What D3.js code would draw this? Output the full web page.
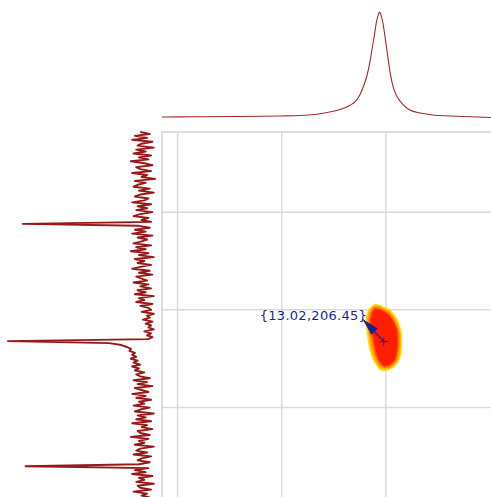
<!DOCTYPE html>
<html>
<head>
<meta charset="utf-8">
<script src="https://cdn.jsdelivr.net/npm/d3@7/dist/d3.min.js"></script>
<style>
  body { margin: 0; background: #fff; }
  svg { display: block; }
</style>
</head>
<body>
<svg id="chart" width="491" height="497"></svg>
<script>
// axis grid (ppm), F2 horizontal (reversed), F1 vertical
const f2Grid = [15, 14, 13]
const f1Grid = [180, 200, 220]

// top projection (F2 ppm / intensity)
const topPpm = [15.15, 14.78, 14.40, 14.02, 13.82, 13.68, 13.54, 13.44, 13.34, 13.29, 13.25, 13.21, 13.18, 13.15, 13.13, 13.11, 13.09, 13.07, 13.06, 13.05, 13.03, 13.01, 12.99, 12.96, 12.93, 12.89, 12.83, 12.77, 12.67, 12.55, 12.38, 12.19, 11.99]
const topInt = [0, 0.2, 0.5, 1, 1.4, 2.4, 4.8, 7.1, 11.4, 15.2, 21, 30.5, 40, 54, 66, 78, 90.5, 98, 100, 98, 90.5, 78, 64, 43, 28.6, 19, 11.4, 6.7, 3.8, 1.9, 1, 0.2, -0.5]

// left projection (F1 ppm sampled from leftStart with leftStep)
const leftStart = 163.6
const leftStep = 0.4
const leftInt = [
  2, -5, 6, -3, 8, -7, 1, 4, -8, 5, -2, 7, -6, 3, -4, 9, -1, -7, 5, 2,
  -6, 8, -3, 1, -9, 6, -2, 4, 7, -5, 3, -8, 2, 6, -4, -1, 8, -6, 4, -3,
  5, -7, 2, 7, -4, 1, -6,
  89,
  3, -5, 6, -2, 8, -7, 4, -3, 1, 7, -6, 5,
  -2, 9, -4, 3, -8, 6, -1, 4, -6, 2, 8, -5, 3, -7, 5, 1, -3, 7, -4, 2,
  -6, 4, -2, 6, -8, 3, -1, 5, -7, 2, -4, -6, 1, -8, -3, -5, 0, -7, -2, -6,
  -4, -8, -1, -6, -3, -7, -4,
  100,
  25, 16, 12, 9, 10, 6, 8, 5, 9, 4, 7, 2, 8, 3, 6, -1, 5, 2,
  -5, 7, -3, 4, -7, 6, 1, -4, 8, -2, 5, -6, 3, -1, 7, -5, 2, 6, -8, 4,
  -2, 5, -6, 8, -3, 1, -7, 4, 2, -5, 9, -4, 3, -1, 6, -8, 2, 5, -3, 7,
  -6, 1, 4, -5, 3,
  87,
  -4, 6, -2, 8, -7, 3, -1, 5, -8, 4, 2, -6, 7, -3, 1, -5
]

// 2D cross peak intensity grid
const blobF2 = [13.25, 13.20, 13.15, 13.10, 13.06, 13.01, 12.96, 12.91, 12.86, 12.82]
const blobF1 = [197.9, 198.9, 200.0, 201.0, 202.0, 203.0, 204.1, 205.1, 206.1, 207.1, 208.1, 209.2, 210.2, 211.2, 212.2, 213.3]
const blobVals = [
  0, 0, 0, 0, 0, 0, 0, 0, 0, 0,
  0, 0, 0, 1.3, 0.9, 0, 0, 0, 0, 0,
  0, 0, 1.6, 3.2, 3, 2, 1.2, 0, 0, 0,
  0, 0.4, 2.2, 4, 5, 4, 2.5, 1, 0, 0,
  0, 0.7, 2.6, 4.5, 6, 6, 4, 2, 0.5, 0,
  0, 0.6, 2.6, 4.5, 6, 6, 5, 3, 1, 0,
  0, 0.4, 2.2, 4, 6, 6, 6, 4, 1.5, 0,
  0, 0.3, 2, 3.6, 6, 6, 6, 4, 2, 0,
  0, 0, 1.7, 3.2, 6, 6, 6, 4, 2, 0,
  0, 0, 1.4, 3, 5, 6, 6, 4, 2, 0,
  0, 0, 1.1, 2.6, 4.5, 6, 6, 4, 1.8, 0,
  0, 0, 0.6, 2.2, 4, 6, 5, 3.5, 1.5, 0,
  0, 0, 0.3, 1.6, 3.2, 5, 4, 3, 1, 0,
  0, 0, 0, 0.7, 2.2, 3.5, 3, 1.5, 0.3, 0,
  0, 0, 0, 0, 1.1, 1.4, 1, 0.3, 0, 0,
  0, 0, 0, 0, 0, 0, 0, 0, 0, 0
]
const blobLevels = [1, 1.4, 1.8, 2.2, 2.6, 3]

// picked peak
const peak = { f2: 13.02, f1: 206.45 }

const svg = d3.select('#chart')

const x = d3.scaleLinear().domain([15.15, 11.99]).range([162, 491])
const y = d3.scaleLinear().domain([163.6, 238.3]).range([132, 497])
const topY = d3.scaleLinear().domain([0, 100]).range([117, 12])
const leftX = d3.scaleLinear().domain([0, 100]).range([143, 8])

// grid
const grid = svg.append('g').attr('stroke', '#dadada').attr('stroke-width', 1.5)
grid.selectAll('line.v').data(f2Grid).join('line')
  .attr('class', 'v')
  .attr('x1', d => x(d)).attr('x2', d => x(d))
  .attr('y1', y.range()[0]).attr('y2', y.range()[1])
grid.selectAll('line.h').data(f1Grid).join('line')
  .attr('class', 'h')
  .attr('y1', d => y(d)).attr('y2', d => y(d))
  .attr('x1', x.range()[0]).attr('x2', x.range()[1])

// frame (top + left only)
svg.append('path')
  .attr('d', `M${x.range()[1]},${y.range()[0]}H${x.range()[0]}V${y.range()[1]}`)
  .attr('fill', 'none')
  .attr('stroke', '#d4d4d4')
  .attr('stroke-width', 1.5)

// top projection
const topLine = d3.line()
  .x((d, i) => x(topPpm[i]))
  .y(d => topY(d))
  .curve(d3.curveMonotoneX)
svg.append('path')
  .datum(topInt)
  .attr('d', topLine)
  .attr('fill', 'none')
  .attr('stroke', '#a52a2a')
  .attr('stroke-width', 1.1)

// left projection
const leftLine = d3.line()
  .x(d => leftX(d))
  .y((d, i) => y(leftStart + i * leftStep))
svg.append('path')
  .datum(leftInt)
  .attr('d', leftLine)
  .attr('fill', 'none')
  .attr('stroke', '#981818')
  .attr('stroke-width', 1.9)
  .attr('stroke-linejoin', 'round')

// cross peak contours
const nx = blobF2.length
const ny = blobF1.length
const bx = d3.scaleLinear().domain([0.5, nx - 0.5]).range([x(blobF2[0]), x(blobF2[nx - 1])])
const by = d3.scaleLinear().domain([0.5, ny - 0.5]).range([y(blobF1[0]), y(blobF1[ny - 1])])
const contours = d3.contours().size([nx, ny]).thresholds(blobLevels)(blobVals)
const blobColor = d3.scaleLinear().domain([1, 2, 3]).range(['#ffe000', '#ff8a00', '#ff1e00'])
const blobPath = d3.geoPath(d3.geoTransform({
  point (px, py) { this.stream.point(bx(px), by(py)) }
}))
svg.append('g').selectAll('path')
  .data(contours)
  .join('path')
  .attr('d', blobPath)
  .attr('fill', d => blobColor(d.value))

// annotation
const px = x(peak.f2)
const py = y(peak.f1)
const ann = svg.append('g').attr('fill', '#1f1f8f').attr('stroke', '#1f1f8f')
const tip = [px - 21, py - 22]
const ang = Math.atan2(tip[1] - py, tip[0] - px)
const hl = 17
const hw = 4.5
ann.append('line')
  .attr('x1', px).attr('y1', py)
  .attr('x2', tip[0]).attr('y2', tip[1])
  .attr('stroke-width', 1.3)
ann.append('path')
  .attr('stroke', 'none')
  .attr('d', () => {
    const bxp = tip[0] - Math.cos(ang) * hl
    const byp = tip[1] - Math.sin(ang) * hl
    const nxp = -Math.sin(ang) * hw
    const nyp = Math.cos(ang) * hw
    return `M${tip[0]},${tip[1]}L${bxp + nxp},${byp + nyp}L${bxp - nxp},${byp - nyp}Z`
  })
ann.append('path')
  .attr('fill', 'none')
  .attr('stroke-width', 1)
  .attr('d', `M${px - 4},${py}H${px + 4}M${px},${py - 4}V${py + 4}`)
ann.append('text')
  .attr('x', px - 17)
  .attr('y', py - 21)
  .attr('text-anchor', 'end')
  .attr('stroke', 'none')
  .attr('font-family', 'DejaVu Sans, Verdana, sans-serif')
  .attr('font-size', 13)
  .attr('textLength', 107)
  .attr('lengthAdjust', 'spacing')
  .text(`{${peak.f2.toFixed(2)},${peak.f1.toFixed(2)}}`)
</script>
</body>
</html>
